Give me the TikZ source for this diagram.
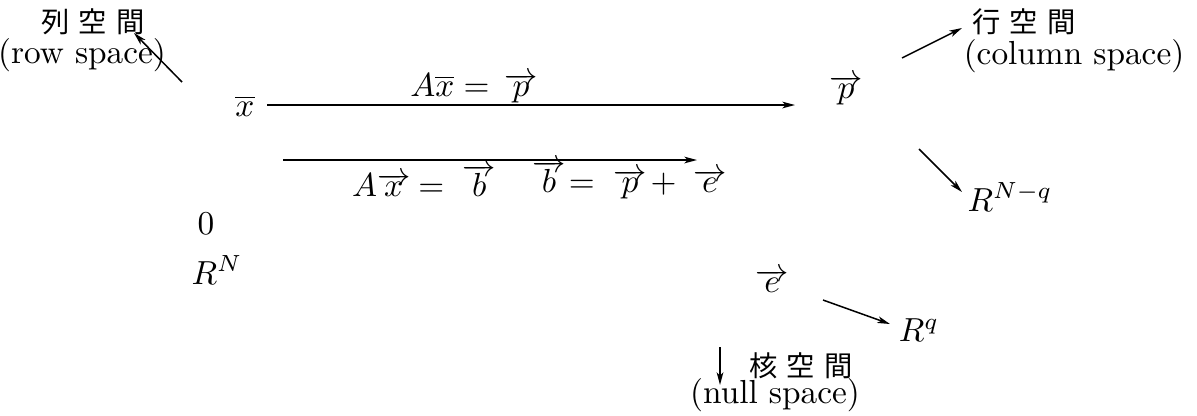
\documentclass[tikz,border=0pt]{standalone}
\usepackage{fontspec}
\newfontfamily\cjk{Noto Sans CJK JP}
\usetikzlibrary{arrows.meta}
\newcommand{\cjsp}{\hspace{2.8pt}}
\newcommand{\vecar}[1]{\rlap{$\overrightarrow{#1}$}\phantom{#1}\mkern7mu}
\begin{document}
\begin{tikzpicture}[x=0.3pt,y=-0.3pt,
  lbl/.style={inner sep=0pt,font=\fontsize{10}{12}\selectfont},
  cj/.style={inner sep=0pt,font=\cjk\fontsize{8.5}{9}\selectfont},
  arr/.style={-{Stealth[length=3.8pt,width=2pt,inset=1pt]},line width=0.45pt}]
\useasboundingbox (0,0) rectangle (1197,415);
% texts
\node[cj] (rowj) at (93,22) {列\cjsp 空\cjsp 間};
\node[lbl] (rowe) at (82,55) {(row space)};
\node[lbl] (x) at (245,106) {$\overline{x}$};
\node[lbl] (l1) at (474,88) {$A\overline{x}=\,\overrightarrow{p}$};
\node[lbl] (p) at (846,90) {$\overrightarrow{p}$};
\node[cj] (colj) at (1024,22) {行\cjsp 空\cjsp 間};
\node[lbl] (cole) at (1074,56) {(column space)};
\node[lbl] (RNq) at (1010,197) {$R^{N-q}$};
\node[lbl] (l2) at (421,180) {$A\vecar{x}=\;\vecar{b}$};
\node[lbl] (l3) at (627,180) {$\vecar{b}=\;\vecar{p}+\;\vecar{e}$};
\node[lbl] (zero) at (206,224) {$0$};
\node[lbl] (RN) at (217,270) {$R^{N}$};
\node[lbl] (e) at (772,281) {$\overrightarrow{e}$};
\node[lbl] (Rq) at (919,330) {$R^{q}$};
\node[cj] (nullj) at (801,366) {核\cjsp 空\cjsp 間};
\node[lbl] (nulle) at (775,395) {(null space)};
% arrow endpoints
\coordinate (a1s) at (182,82);  \coordinate (a1e) at (134,33);
\coordinate (a2s) at (267,105); \coordinate (a2e) at (795,105);
\coordinate (a3s) at (902,58);  \coordinate (a3e) at (962,28);
\coordinate (a4s) at (919,149); \coordinate (a4e) at (962,192);
\coordinate (a5s) at (283,160); \coordinate (a5e) at (697,160);
\coordinate (a6s) at (823,300); \coordinate (a6e) at (890,324);
\coordinate (a7s) at (720,347); \coordinate (a7e) at (720,385);
\draw[arr] (a1s) -- (a1e);
\draw[arr] (a2s) -- (a2e);
\draw[arr] (a3s) -- (a3e);
\draw[arr] (a4s) -- (a4e);
\draw[arr] (a5s) -- (a5e);
\draw[arr] (a6s) -- (a6e);
\draw[arr] (a7s) -- (a7e);
\end{tikzpicture}
\end{document}
